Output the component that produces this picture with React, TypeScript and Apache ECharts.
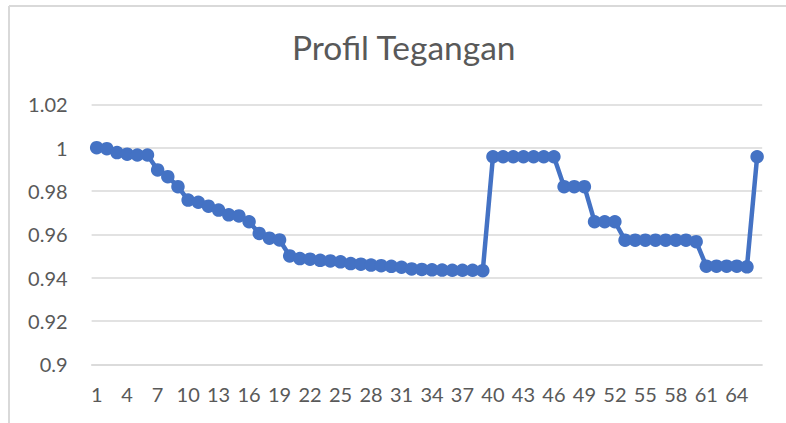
import React, { useEffect, useRef } from "react";
import * as echarts from "echarts";

const categories: string[] = [
  "1","2","3","4","5","6","7","8","9","10","11","12","13","14","15","16","17","18","19","20","21","22",
  "23","24","25","26","27","28","29","30","31","32","33","34","35","36","37","38","39","40","41","42","43","44",
  "45","46","47","48","49","50","51","52","53","54","55","56","57","58","59","60","61","62","63","64","65","66",
];

const voltage: number[] = [
  1.0, 0.9995, 0.9977, 0.997, 0.9966, 0.9966, 0.9897, 0.9866, 0.982, 0.9758,
  0.9748, 0.973, 0.9712, 0.969, 0.9685, 0.9658, 0.9604, 0.9582, 0.9574, 0.95,
  0.9488, 0.9485, 0.948, 0.9477, 0.9473, 0.9465, 0.9462, 0.9458, 0.9455, 0.9452,
  0.9448, 0.944, 0.9438, 0.9436, 0.9435, 0.9434, 0.9434, 0.9434, 0.9432,
  0.9958, 0.9958, 0.9958, 0.9958, 0.9958, 0.9958, 0.9958,
  0.982, 0.982, 0.982,
  0.9658, 0.9658, 0.9658,
  0.9573, 0.9573, 0.9573, 0.9573, 0.9573, 0.9573, 0.9573, 0.9566,
  0.9453, 0.9453, 0.9453, 0.9453, 0.945,
  0.9958,
];

const titleText = "Profil Tegangan";

export default function App() {
  const ref = useRef<HTMLDivElement>(null);
  useEffect(() => {
    if (!ref.current) return;
    const chart = echarts.init(ref.current, null, { renderer: "svg" });
    chart.setOption({
      animation: false,
      backgroundColor: "#ffffff",
      title: {
        text: titleText,
        left: 287,
        top: 25,
        textStyle: {
          fontFamily: "Lato",
          fontSize: 33.5,
          fontWeight: "normal",
          color: "#595959",
        },
      },
      graphic: [
        {
          type: "line",
          shape: { x1: 9, y1: 6, x2: 800, y2: 6 },
          style: { stroke: "#d9d9d9", lineWidth: 2 },
        },
        {
          type: "line",
          shape: { x1: 9, y1: 6, x2: 9, y2: 440 },
          style: { stroke: "#d9d9d9", lineWidth: 2 },
        },
      ],
      grid: { left: 91.6, right: 23.8, top: 104.3, bottom: 58.7, containLabel: false },
      xAxis: {
        type: "category",
        data: categories,
        boundaryGap: true,
        axisTick: { show: false },
        axisLine: { lineStyle: { color: "#d9d9d9", width: 1.5 } },
        axisLabel: {
          interval: 2,
          color: "#595959",
          fontFamily: "Lato",
          fontSize: 20,
          margin: 20,
        },
        splitLine: { show: false },
      },
      yAxis: {
        type: "value",
        min: 0.9,
        max: 1.02,
        interval: 0.02,
        axisLine: { show: false },
        axisTick: { show: false },
        axisLabel: {
          color: "#595959",
          fontFamily: "Lato",
          fontSize: 20,
          margin: 24,
          formatter: (v: number) => String(parseFloat(v.toFixed(2))),
        },
        splitLine: { lineStyle: { color: "#d9d9d9", width: 1.5 } },
      },
      series: [
        {
          type: "line",
          data: voltage,
          symbol: "circle",
          symbolSize: 13.5,
          showSymbol: true,
          showAllSymbol: true,
          lineStyle: { color: "#4472C4", width: 4.5 },
          itemStyle: { color: "#4472C4" },
        },
      ],
    });
    return () => chart.dispose();
  }, []);
  return (
    <div
      ref={ref}
      style={{ position: "fixed", left: 0, top: 0, width: 786, height: 423 }}
    />
  );
}
